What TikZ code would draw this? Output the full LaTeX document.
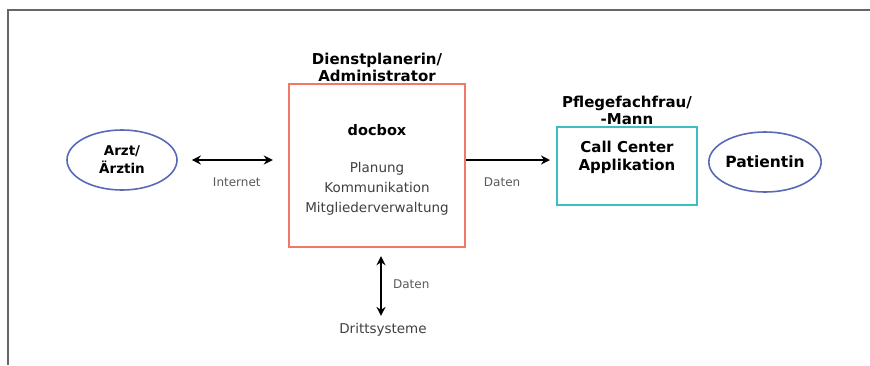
\documentclass[tikz,border=0pt]{standalone}
\usepackage{fontspec}
\setmainfont{DejaVu Sans}
\usetikzlibrary{shapes.geometric, arrows, arrows.meta}
\definecolor{boxred}{HTML}{F07868}
\definecolor{boxcyan}{HTML}{3CBFC0}
\definecolor{ellblue}{HTML}{5A68B8}
\tikzstyle{actor} = [ellipse, minimum width=110pt, minimum height=60pt, inner sep=0pt, draw=ellblue, line width=1.6pt, align=center, font=\bfseries\fontsize{13.5}{18}\selectfont]
\tikzstyle{mainbox} = [rectangle, minimum width=176pt, minimum height=163pt, draw=boxred, line width=2.4pt]
\tikzstyle{appbox} = [rectangle, minimum width=140pt, minimum height=78pt, draw=boxcyan, line width=2pt, align=center, font=\bfseries\fontsize{15}{18}\selectfont]
\tikzstyle{role} = [align=center, inner sep=1pt, font=\bfseries\fontsize{15}{17}\selectfont]
\tikzstyle{content} = [align=center, text=black!75, font=\fontsize{13.5}{20}\selectfont]
\tikzstyle{small} = [text=black!65, font=\fontsize{12}{12}\selectfont]
\tikzstyle{arrow} = [line width=1.6pt, >={Stealth[length=9pt, width=9pt]}]

\begin{document}
\begin{tikzpicture}[x=1pt, y=-1pt]
	\useasboundingbox (0,0) rectangle (870,365);
	\draw[black!60, line width=1.5pt] (8,365) -- (8,10) -- (870,10);

	\node[actor](arzt) at (122,160){Arzt/\\Ärztin};
	\node[mainbox](docbox) at (377,165.5){};
	\node[role, above] (admin) at (docbox.north){Dienstplanerin/\\Administrator};
	\node[content, text=black, font=\bfseries\fontsize{14.5}{14}\selectfont](docbox_title) at (377,130){docbox};
	\node[content](tasks) at (377,189){Planung\\Kommunikation\\Mitgliederverwaltung};
	\node[appbox](callcenter) at (627,166){Call Center\\Applikation\\[2pt]};
	\node[role, above] (pflege) at (callcenter.north){Pflegefachfrau/\\-Mann};
	\node[actor, font=\bfseries\fontsize{15.5}{18}\selectfont](patient) at (765,162){Patientin};
	\node[content](dritt) at (383,330){Drittsysteme};

	\draw[arrow, <->, shorten <=14pt, shorten >=15pt] (arzt.east) -- (arzt.east -| docbox.west) node[small, midway, below=14pt, xshift=4pt]{Internet};
	\draw[arrow, ->, shorten >=6pt] (docbox.east |- arzt.east) -- (callcenter.west |- arzt.east) node[small, midway, below=14pt, xshift=-9pt]{Daten};
	\draw[arrow, <->, shorten <=8pt, shorten >=4pt] (docbox.south -| 381,0) -- (dritt.north -| 381,0) node[small, midway, right=8pt]{Daten};
\end{tikzpicture}
\end{document}
